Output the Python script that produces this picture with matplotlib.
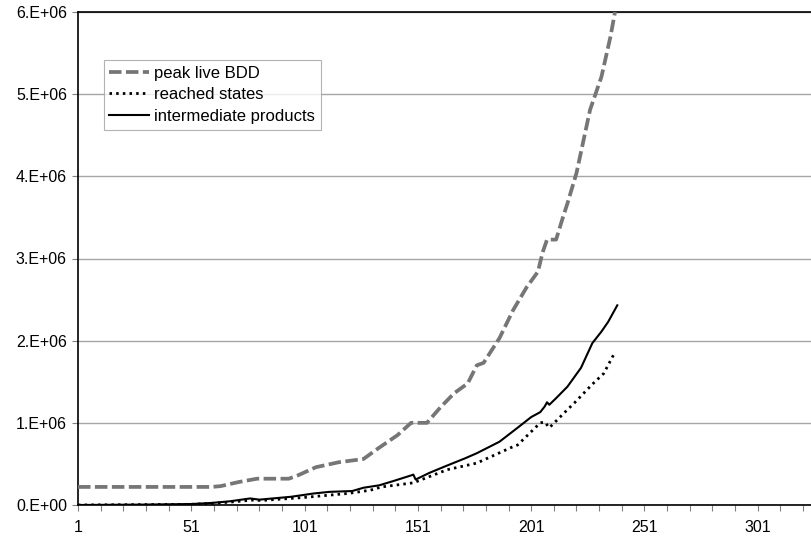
import matplotlib

matplotlib.use("Agg")
import matplotlib.pyplot as plt
from matplotlib.ticker import FixedLocator

plt.rcParams["font.family"] = ["Liberation Sans", "DejaVu Sans"]
plt.rcParams["lines.scale_dashes"] = False

# values in millions (x = iteration index)
peak_x = [1, 60, 64, 72, 80, 94, 98, 106, 116, 127, 133, 142, 148, 155, 161,
          167, 173, 177, 180, 187, 193, 199, 204, 206, 208, 212, 215, 217,
          221, 227, 232, 236, 238]
peak_y = [0.22, 0.22, 0.23, 0.28, 0.32, 0.32, 0.36, 0.46, 0.52, 0.56, 0.68,
          0.85, 1.0, 1.0, 1.19, 1.36, 1.48, 1.70, 1.73, 2.03, 2.37, 2.65,
          2.84, 3.07, 3.23, 3.23, 3.50, 3.67, 4.04, 4.81, 5.21, 5.70, 6.0]

inter_x = [1, 30, 51, 60, 68, 77, 81, 95, 105, 112, 122, 127, 134, 140, 148,
           149, 150, 156, 163, 172, 177, 187, 195, 201, 205, 207, 208, 209,
           212, 217, 223, 228, 232, 235, 239]
inter_y = [0.0, 0.005, 0.012, 0.025, 0.045, 0.08, 0.065, 0.10, 0.14, 0.16,
           0.17, 0.21, 0.24, 0.29, 0.36, 0.37, 0.31, 0.39, 0.47, 0.57, 0.63,
           0.77, 0.94, 1.07, 1.13, 1.20, 1.25, 1.22, 1.30, 1.44, 1.67, 1.97,
           2.11, 2.23, 2.43]

reached_x = [1, 51, 60, 68, 78, 82, 100, 120, 130, 135, 149, 164, 177, 181,
             193, 195, 205, 207, 209, 217, 220, 228, 233, 238]
reached_y = [0.0, 0.008, 0.02, 0.035, 0.06, 0.055, 0.09, 0.14, 0.18, 0.22,
             0.27, 0.43, 0.51, 0.56, 0.71, 0.73, 1.0, 1.01, 0.94, 1.16, 1.24,
             1.47, 1.6, 1.86]

y_ticks = [0, 1, 2, 3, 4, 5, 6]
y_labels = ["0.E+00", "1.E+06", "2.E+06", "3.E+06", "4.E+06", "5.E+06", "6.E+06"]
x_ticks = [1, 51, 101, 151, 201, 251, 301]

fig = plt.figure(figsize=(8.11, 5.40), dpi=100)
ax = fig.add_axes([78 / 811, 35 / 540, 733 / 811, 493 / 540])

ax.plot(peak_x, [v * 1e6 for v in peak_y], color="#767676", linewidth=2.7,
        dashes=(9, 3.2), label="peak live BDD", solid_capstyle="butt",
        dash_capstyle="butt", zorder=3)
ax.plot(reached_x, [v * 1e6 for v in reached_y], color="black", linewidth=2.0,
        dashes=(1.8, 3.0), label="reached states", zorder=3)
ax.plot(inter_x, [v * 1e6 for v in inter_y], color="black", linewidth=1.5,
        label="intermediate products", zorder=4)

ax.set_xlim(1, 324.5)
ax.set_ylim(0, 6e6)
ax.set_yticks([v * 1e6 for v in y_ticks])
ax.set_yticklabels(y_labels)
ax.set_xticks(x_ticks)
ax.set_xticklabels([str(x) for x in x_ticks])
ax.xaxis.set_minor_locator(FixedLocator(list(range(1, 325, 10))))

ax.grid(True, axis="y", color="#a6a6a6", linewidth=1.0)
ax.set_axisbelow(True)
for side in ["left", "bottom", "top"]:
    ax.spines[side].set_color("black")
    ax.spines[side].set_linewidth(1.2)
ax.spines["right"].set_visible(False)
ax.tick_params(axis="y", which="major", length=4, width=0.8, color="#808080",
               labelsize=11.5, pad=4)
ax.tick_params(axis="x", which="both", length=4, width=0.8, color="#808080",
               labelsize=11.5, pad=7)

leg = ax.legend(loc="upper left", bbox_to_anchor=(0.035, 0.903), borderaxespad=0,
                fontsize=12, frameon=True, fancybox=False, handlelength=2.4,
                handletextpad=0.3, labelspacing=0.4, borderpad=0.35)
leg.get_frame().set_edgecolor("#a0a0a0")
leg.get_frame().set_linewidth(0.8)

fig.savefig("out.png", dpi=100)
